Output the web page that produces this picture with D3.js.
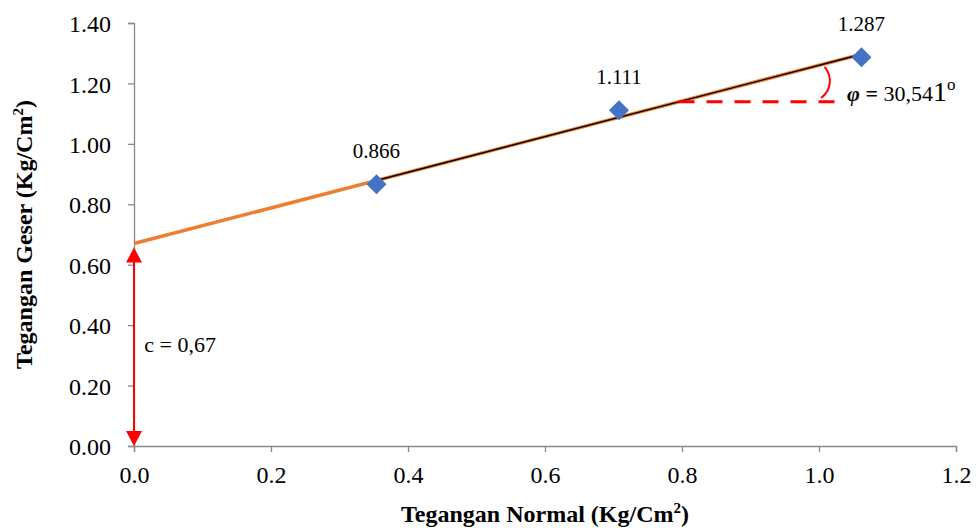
<!DOCTYPE html>
<html>
<head>
<meta charset="utf-8">
<script src="https://cdn.jsdelivr.net/npm/d3@7"></script>
<style>
  html, body { margin: 0; padding: 0; background: #fff; }
  svg { display: block; }
  svg text { font-family: "Liberation Serif", "Times New Roman", serif; }
</style>
</head>
<body>
<svg id="chart" width="978" height="528"></svg>
<script>
// Direct shear test results
const normalStress = [0.354, 0.708, 1.062];   // Kg/Cm²
const shearStress  = [0.866, 1.111, 1.287];   // Kg/Cm²
const shearLabels  = ["0.866", "1.111", "1.287"];

// Mohr–Coulomb envelope parameters
const cohesion = 0.67;
const phiDeg = 30.541;

// Axis ticks
const xTicks = [0, 0.2, 0.4, 0.6, 0.8, 1.0, 1.2];
const yTicks = [0, 0.2, 0.4, 0.6, 0.8, 1.0, 1.2, 1.4];

const svg = d3.select("#chart");
const margin = { left: 134, right: 22, top: 23, bottom: 82 };
const W = 978, H = 528;

const x = d3.scaleLinear().domain([0, 1.2]).range([margin.left, W - margin.right]);
const y = d3.scaleLinear().domain([0, 1.4]).range([H - margin.bottom, margin.top]);

const axisColor = "#898989";

// Axes
const xAxis = svg.append("g")
  .attr("transform", `translate(0,${y(0)})`)
  .call(d3.axisBottom(x).tickValues(xTicks).tickFormat(d3.format(".1f")).tickSizeOuter(0).tickSize(6).tickPadding(14));
const yAxis = svg.append("g")
  .attr("transform", `translate(${x(0)},0)`)
  .call(d3.axisLeft(y).tickValues(yTicks).tickFormat(d3.format(".2f")).tickSizeOuter(0).tickSize(6).tickPadding(17));

[xAxis, yAxis].forEach(g => {
  g.attr("font-family", null);
  g.select(".domain").attr("stroke", axisColor).attr("stroke-width", 1.3);
  g.selectAll(".tick line").attr("stroke", axisColor).attr("stroke-width", 1.3);
  g.selectAll(".tick text")
    .attr("fill", "#000")
    .style("font-size", "24px");
});
yAxis.selectAll(".tick text").attr("dy", "0.36em");

// Axis titles
const xt = svg.append("text")
  .attr("x", (x(0) + x(1.2)) / 2)
  .attr("y", 522)
  .attr("text-anchor", "middle")
  .style("font-weight", "bold")
  .style("font-size", "24px");
xt.append("tspan").text("Tegangan Normal (Kg/Cm");
xt.append("tspan").attr("dy", -9).style("font-size", "15px").text("2");
xt.append("tspan").attr("dy", 9).text(")");

const yt = svg.append("text")
  .attr("transform", `translate(32,${(y(0) + y(1.4)) / 2}) rotate(-90)`)
  .attr("text-anchor", "middle")
  .style("font-weight", "bold")
  .style("font-size", "24px");
yt.append("tspan").text("Tegangan Geser (Kg/Cm");
yt.append("tspan").attr("dy", -9).style("font-size", "15px").text("2");
yt.append("tspan").attr("dy", 9).text(")");

// Failure envelope
const slope = Math.tan(phiDeg * Math.PI / 180);
const envelope = xv => cohesion + slope * xv;
const xEnd = normalStress[normalStress.length - 1];
const line = d3.line().x(d => x(d)).y(d => y(envelope(d)));

svg.append("path")
  .datum([0, xEnd])
  .attr("d", line)
  .attr("fill", "none")
  .attr("stroke", "#ED7D31")
  .attr("stroke-width", 3.5);

svg.append("path")
  .datum([normalStress[0], xEnd])
  .attr("d", line)
  .attr("fill", "none")
  .attr("stroke", "#000")
  .attr("stroke-width", 1.4);

// Data points
const pts = normalStress.map((v, i) => ({ x: v, y: shearStress[i], label: shearLabels[i] }));
svg.selectAll(".pt")
  .data(pts)
  .join("path")
  .attr("class", "pt")
  .attr("d", d3.symbol().type(d3.symbolSquare).size(200))
  .attr("transform", d => `translate(${x(d.x)},${y(d.y)}) rotate(45)`)
  .attr("fill", "#4472C4");

svg.selectAll(".lbl")
  .data(pts)
  .join("text")
  .attr("class", "lbl")
  .attr("x", d => x(d.x))
  .attr("y", d => y(d.y) - 26)
  .attr("text-anchor", "middle")
  .style("font-size", "21px")
  .text(d => d.label);

// Friction angle annotation: horizontal reference from where the envelope crosses it
const refY = 1.139;
const refX0 = (refY - cohesion) / slope;
svg.append("line")
  .attr("x1", x(refX0)).attr("x2", x(1.03))
  .attr("y1", y(refY)).attr("y2", y(refY))
  .attr("stroke", "#FF0000")
  .attr("stroke-width", 3)
  .attr("stroke-dasharray", "16,12");

// angle arc between reference line and envelope
const arcX0 = x(1.003), arcY0 = y(1.152);
const arcX1 = x(1.008), arcY1 = y(1.255);
svg.append("path")
  .attr("d", `M${arcX0},${arcY0} A21,21 0 0 0 ${arcX1},${arcY1}`)
  .attr("fill", "none")
  .attr("stroke", "#FF0000")
  .attr("stroke-width", 2);

const phiText = svg.append("text")
  .attr("x", x(1.041))
  .attr("y", y(1.142))
  .style("font-size", "22px");
phiText.append("tspan").style("font-weight", "bold").style("font-style", "italic").text("φ");
phiText.append("tspan").style("font-weight", "bold").text(" = ");
phiText.append("tspan").text("30,54");
phiText.append("tspan").style("font-size", "28px").text("1");
phiText.append("tspan").attr("dy", -11).style("font-size", "17px").text("o");

// Cohesion arrow
const red = "#FF0000";
const ax = x(0);
const yTop = y(0.657), yBot = y(0);
const headH = 15, headW = 8;
svg.append("line")
  .attr("x1", ax).attr("x2", ax)
  .attr("y1", yTop + headH - 1).attr("y2", yBot - headH + 1)
  .attr("stroke", red).attr("stroke-width", 2);
svg.append("path")
  .attr("d", `M${ax},${yTop} L${ax - headW},${yTop + headH} L${ax + headW},${yTop + headH} Z`)
  .attr("fill", red);
svg.append("path")
  .attr("d", `M${ax},${yBot} L${ax - headW},${yBot - headH} L${ax + headW},${yBot - headH} Z`)
  .attr("fill", red);

svg.append("text")
  .attr("x", x(0.015))
  .attr("y", y(0.31))
  .style("font-size", "22px")
  .text("c = 0,67");
</script>
</body>
</html>
